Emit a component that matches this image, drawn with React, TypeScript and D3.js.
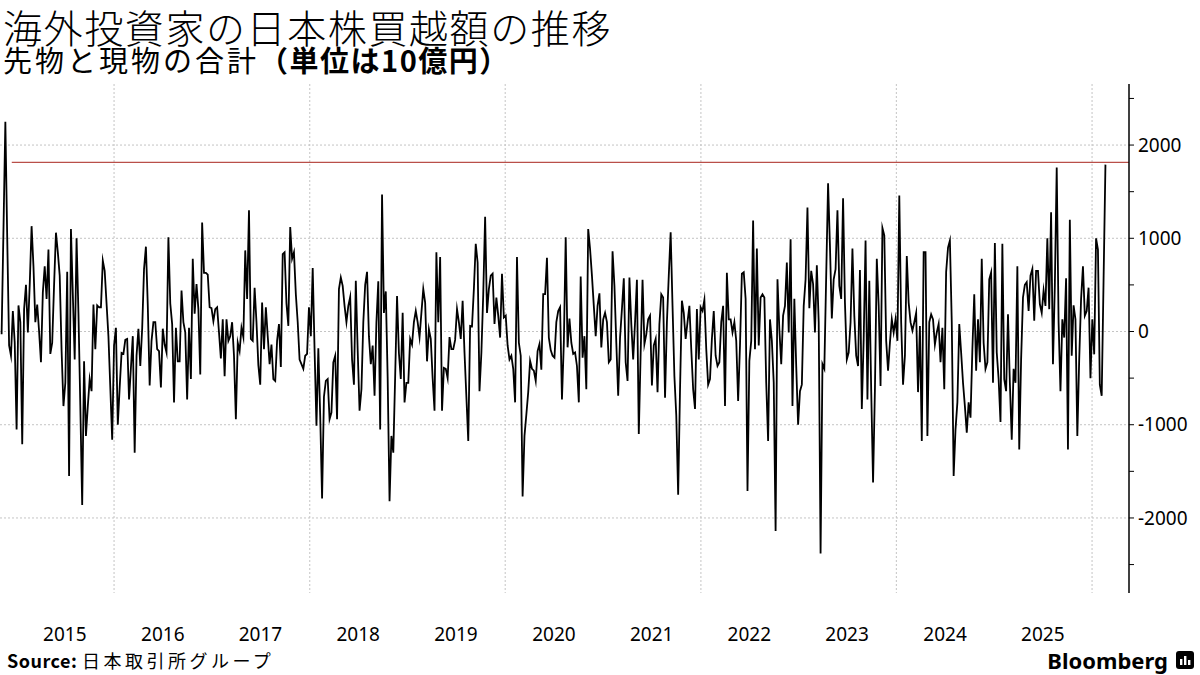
import { useEffect, useRef } from 'react';
import * as d3 from 'd3';

// Weekly net purchases by foreign investors, futures + cash (10億円), week ending Friday
const firstWeek = new Date(2014, 10, 7);

const w2014 = [-30, 1100, 2250, 1000, -150, -260, 220, -120];
const w2015 = [-1050, 280, 100, -1210, 240, 500, -10, 500, 1130, 700, 100, 290, 0, -330, 420, 700, 350, 880, -240, -120, 500, 1060, 850, 600, -200, -800, -550, 640, -1550, 1100, 400, -300, 1000, 200, -800, -1860, -320, -1120, -800, -510, -640, 290, -190, 280, 260, 260, 760, 650, 300, -50, -600, -1160];
const w2016 = [-150, 40, -1000, -600, -230, -240, -90, -80, -730, -390, -50, -1300, -260, 30, -370, 30, 670, 910, 280, -580, -100, 100, 100, -190, -210, -600, 30, -140, -225, 1010, 300, 80, -760, 40, -320, -320, 440, 100, -10, -730, 40, -510, 780, 190, 510, 240, -460, 1170, 630, 630, 610, 260, 250];
const w2017 = [110, 240, 260, -10, -290, 130, -480, 130, -100, -50, 100, -260, -940, -120, -210, 40, -60, 870, 350, 1300, -80, -100, 470, 100, -360, -570, 310, -190, 260, -50, -350, -140, -510, -530, -100, 80, -380, 830, 850, 300, 60, 1120, 780, 850, 400, 100, -300, -350, -400, -260, -240, 260];
const w2018 = [-50, 680, -200, -1010, -180, -900, -1790, -700, -530, -510, -940, -870, -330, -260, -940, 455, 580, 490, 275, 100, 275, 370, -300, -570, 545, -200, -850, -620, 100, 500, 640, -50, -350, -150, -690, 100, 540, -1050, 1470, 200, 430, -500, -1820, -1120, -1300, -480, 380, -230, -510, 200, -760, -550];
const w2019 = [-550, -80, -140, 100, 220, 100, -60, 200, 455, 310, -320, 25, -80, -500, -850, 850, 100, 800, -850, -390, -400, -500, -60, -190, -190, -90, 240, 100, -80, 330, -225, -700, -1175, 60, 55, 455, 940, 740, -640, -230, 400, 1230, 200, 455, 600, 620, 80, 365, 170, -65, 620, 150];
const w2020 = [170, -150, -300, -260, -400, -760, 800, -120, -260, -1770, -1120, -890, -650, -315, -400, -420, -530, -210, -135, -410, 400, 400, 790, -65, -200, -260, -280, 100, 220, 260, -730, -120, 1010, -170, 140, -120, -240, -225, -370, -760, 590, -280, -50, -620, 1100, 885, 600, 275, -50, 275, 410, -170];
const w2021 = [130, 200, 100, -330, -300, 860, 490, -120, -690, -65, 240, 570, -330, -530, 580, 80, -300, 100, 555, -1100, -225, 555, -135, -30, 130, 170, -580, -150, -80, -650, 80, 400, 365, -710, 100, 600, 1065, 275, -480, -900, -1750, -620, 330, 200, -80, 100, 275, -190, -620, -830, 240, -300, 260];
const w2022 = [220, 340, -190, -570, -510, -80, 220, -260, -370, -330, 100, 275, -800, 630, 130, 130, -10, 100, -100, -745, -150, 620, 635, 350, -1710, -315, -100, 1190, -190, 890, -150, 365, 400, 365, -550, -1175, 130, -100, -550, -2140, 560, 25, -350, 170, 275, 740, -10, 990, -800, 350, -370, -1000];
const w2023 = [-640, -570, 275, 560, 1330, 250, 650, 510, -10, 710, 100, -2380, -350, -400, 600, 1590, 920, 140, 560, 670, 1300, 490, 350, 1430, 310, -300, -225, 100, 890, 170, -260, -370, 660, -830, -80, 975, -730, 545, -620, -1620, -620, 780, 275, -585, 1110, 1030, -100, -420, -120, 130, -10, 130];
const w2024 = [-100, 1460, 100, -570, -260, 810, 310, 100, 10, 100, 200, -650, 60, -1175, 850, 850, -1120, 100, 185, 130, -140, -10, 80, -330, 40, -620, 640, 900, 975, 100, -1550, -1050, -760, 80, -225, -550, -800, -1085, -760, -925, -190, 400, -420, 130, -330, 780, -120, -400, -330, 560, 635, -550];
const w2025 = [950, -225, -510, -970, 940, -510, -640, 185, -550, -1160, -400, -550, 700, -1265, -300, 365, 500, 530, 220, 600, 670, 115, 650, 650, 295, 200, 440, 275, 1000, 240, 1280, -350, 500, 1760, 100, -640, 130, -65, 570, -1265, 1200, -260, 280, 130, -1120, -300, 350, 700, 170, 220, 470, -500];
const w2026 = [130, -245, 1000, 880, -570, -690, 550, 1790];

const weekly = [...w2014, ...w2015, ...w2016, ...w2017, ...w2018, ...w2019, ...w2020, ...w2021, ...w2022, ...w2023, ...w2024, ...w2025, ...w2026];

const yearLabels = [2015, 2016, 2017, 2018, 2019, 2020, 2021, 2022, 2023, 2024, 2025];
const gridYears = [2016, 2018, 2020, 2022, 2024, 2026];
const yLabelValues = [2000, 1000, 0, -1000, -2000];
const yMinorTicks = [2500, 2000, 1500, 1000, 500, 0, -500, -1000, -1500, -2000, -2500];
const refLevel = 1815;
const refStart = new Date(2014, 11, 15);

const W = 1200;
const H = 675;
const plot = { left: 0, right: 1129, top: 84, bottom: 593 };
const font = "'Noto Sans', 'Noto Sans CJK JP', 'DejaVu Sans', sans-serif";
const jpFont = "'Noto Sans CJK JP', 'Noto Sans', sans-serif";

export default function App() {
  const svgRef = useRef<SVGSVGElement>(null);

  useEffect(() => {
    const svg = d3.select(svgRef.current);
    svg.selectAll('*').remove();

    const points = weekly.map((v, i) => ({ date: d3.timeWeek.offset(firstWeek, i), value: v }));

    const x = d3.scaleTime()
      .domain([new Date(2014, 10, 1), new Date(2026, 4, 19)])
      .range([plot.left, plot.right]);
    const y = d3.scaleLinear()
      .domain([-2805, 2655])
      .range([plot.bottom, plot.top]);

    svg.append('rect').attr('width', W).attr('height', H).attr('fill', '#ffffff');

    // Title and subtitle
    svg.append('text')
      .attr('x', 3)
      .attr('y', 43)
      .style('font-family', jpFont)
      .style('font-size', '39px')
      .style('font-weight', '300')
      .style('letter-spacing', '1.6px')
      .style('fill', '#000')
      .text('海外投資家の日本株買越額の推移');

    const sub = svg.append('text')
      .attr('x', 3)
      .attr('y', 72)
      .style('font-family', jpFont)
      .style('font-size', '29px')
      .style('letter-spacing', '3px')
      .style('fill', '#000');
    sub.append('tspan').text('先物と現物の合計');
    sub.append('tspan').style('font-weight', 'bold').style('letter-spacing', '1.5px').text('（単位は10億円）');

    // Grid
    const grid = svg.append('g');
    grid.selectAll('.hgrid')
      .data(yLabelValues)
      .enter().append('line')
      .attr('x1', plot.left)
      .attr('x2', plot.right)
      .attr('y1', d => y(d))
      .attr('y2', d => y(d))
      .attr('stroke', '#c4c4c4')
      .attr('stroke-width', 1)
      .attr('stroke-dasharray', '2,2');

    grid.selectAll('.vgrid')
      .data(gridYears)
      .enter().append('line')
      .attr('x1', d => x(new Date(d, 0, 1)))
      .attr('x2', d => x(new Date(d, 0, 1)))
      .attr('y1', plot.top)
      .attr('y2', plot.bottom)
      .attr('stroke', '#c4c4c4')
      .attr('stroke-width', 1)
      .attr('stroke-dasharray', '2,2');

    // Reference level
    svg.append('line')
      .attr('x1', x(refStart))
      .attr('x2', plot.right)
      .attr('y1', y(refLevel))
      .attr('y2', y(refLevel))
      .attr('stroke', '#a8241c')
      .attr('stroke-width', 1);

    // Series
    const line = d3.line<{ date: Date; value: number }>()
      .x(d => x(d.date))
      .y(d => y(d.value));

    svg.append('path')
      .datum(points)
      .attr('d', line)
      .attr('fill', 'none')
      .attr('stroke', '#000')
      .attr('stroke-width', 1.8)
      .attr('stroke-linejoin', 'miter')
      .attr('stroke-miterlimit', 10);

    // Right axis
    svg.append('line')
      .attr('x1', plot.right)
      .attr('x2', plot.right)
      .attr('y1', plot.top)
      .attr('y2', plot.bottom)
      .attr('stroke', '#000')
      .attr('stroke-width', 1.5);

    svg.selectAll('.ytick')
      .data(yMinorTicks)
      .enter().append('line')
      .attr('x1', plot.right)
      .attr('x2', plot.right + 5)
      .attr('y1', d => y(d))
      .attr('y2', d => y(d))
      .attr('stroke', '#000')
      .attr('stroke-width', 1);

    svg.selectAll('.ylabel')
      .data(yLabelValues)
      .enter().append('text')
      .attr('x', plot.right + 9)
      .attr('y', d => y(d))
      .attr('dy', '0.35em')
      .style('font-family', font)
      .style('font-size', '19px')
      .style('fill', '#000')
      .text(d => (d < 0 ? '-' + Math.abs(d) : String(d)));

    // Year labels
    svg.selectAll('.xlabel')
      .data(yearLabels)
      .enter().append('text')
      .attr('x', d => x(new Date(d, 6, 1)))
      .attr('y', 641)
      .attr('text-anchor', 'middle')
      .style('font-family', font)
      .style('font-size', '19px')
      .style('fill', '#000')
      .text(d => d);

    // Footer
    const src = svg.append('text')
      .attr('x', 7)
      .attr('y', 668)
      .style('font-family', jpFont)
      .style('font-size', '18px')
      .style('fill', '#000');
    src.append('tspan').style('font-weight', 'bold').style('letter-spacing', '0.5px').text('Source: ');
    src.append('tspan').style('letter-spacing', '3.5px').text('日本取引所グループ');

    svg.append('text')
      .attr('x', 1168)
      .attr('y', 669)
      .attr('text-anchor', 'end')
      .style('font-family', font)
      .style('font-size', '22px')
      .style('font-weight', 'bold')
      .style('fill', '#000')
      .text('Bloomberg');

    const logo = svg.append('g').attr('transform', 'translate(1176, 651)');
    logo.append('rect')
      .attr('width', 18)
      .attr('height', 18)
      .attr('rx', 3)
      .attr('fill', '#000');
    [[4, 8], [8, 5], [12, 9]].forEach(([bx, by]) => {
      logo.append('rect')
        .attr('x', bx)
        .attr('y', by)
        .attr('width', 2.4)
        .attr('height', 14 - by)
        .attr('fill', '#fff');
    });
  }, []);

  return (
    <div style={{ position: 'absolute', left: 0, top: 0, width: W, height: H }}>
      <svg ref={svgRef} width={W} height={H} />
    </div>
  );
}
